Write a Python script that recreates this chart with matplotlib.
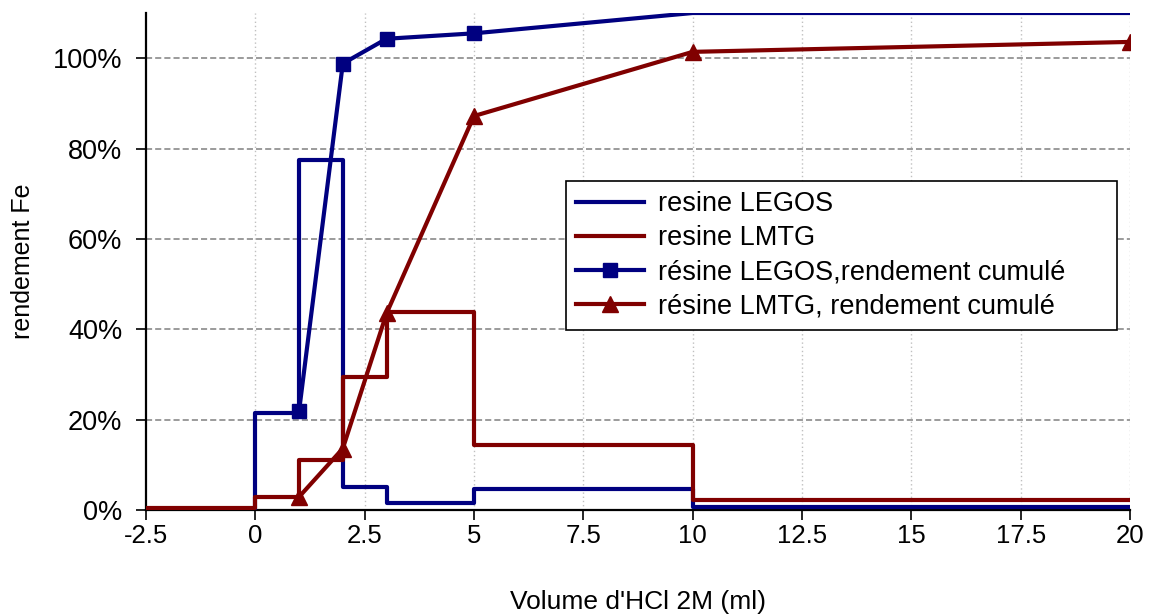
import matplotlib
matplotlib.use('Agg')
import matplotlib.pyplot as plt
from matplotlib.ticker import PercentFormatter, FormatStrFormatter

plt.rcParams['font.family'] = ['Liberation Sans', 'DejaVu Sans']

# step curves: value on each interval starting at the edge (last one repeated)
x_edges = [-2.5, 0, 1, 2, 3, 5, 10, 20]
legos_step = [0.0, 0.215, 0.775, 0.05, 0.015, 0.046, 0.006, 0.006]
lmtg_step = [0.004, 0.029, 0.11, 0.294, 0.439, 0.143, 0.022, 0.022]

# cumulative yields
x_cum = [1, 2, 3, 5, 10, 20]
legos_cum = [0.219, 0.988, 1.043, 1.055, 1.10, 1.10]
lmtg_cum = [0.029, 0.136, 0.435, 0.872, 1.014, 1.036]

x_ticks = [-2.5, 0, 2.5, 5, 7.5, 10, 12.5, 15, 17.5, 20]
y_ticks = [0, 0.2, 0.4, 0.6, 0.8, 1.0]

labels = ['resine LEGOS', 'resine LMTG',
          'résine LEGOS,rendement cumulé', 'résine LMTG, rendement cumulé']

blue = '#000080'
red = '#800000'

fig = plt.figure(figsize=(11.5, 6.14), dpi=100)
ax = fig.add_axes([146 / 1150, 1 - 510 / 614, 984 / 1150, 497 / 614])

ax.step(x_edges, legos_step, where='post', color=blue, lw=3, label=labels[0], zorder=3)
ax.step(x_edges, lmtg_step, where='post', color=red, lw=3, label=labels[1], zorder=3)
ax.plot(x_cum, legos_cum, color=blue, lw=3, marker='s', markersize=10,
        markevery=slice(0, 4), label=labels[2], zorder=4)
ax.plot(x_cum, lmtg_cum, color=red, lw=3, marker='^', markersize=11,
        label=labels[3], zorder=4)

ax.set_xlim(-2.5, 20)
ax.set_ylim(0, 1.10)
ax.set_xticks(x_ticks)
ax.xaxis.set_major_formatter(FormatStrFormatter('%g'))
ax.set_yticks(y_ticks)
ax.yaxis.set_major_formatter(PercentFormatter(1.0, decimals=0))

# grid
for yv in y_ticks[1:]:
    ax.axhline(yv, color='#808080', lw=1.1, ls=(0, (4, 2)), zorder=1)
for xv in x_ticks[1:]:
    ax.axvline(xv, color='#c0c0c0', lw=1.0, ls=(0, (1, 2)), zorder=1)

for s in ['top', 'right']:
    ax.spines[s].set_visible(False)
for s in ['left', 'bottom']:
    ax.spines[s].set_linewidth(1.6)
    ax.spines[s].set_color('black')
ax.tick_params(axis='both', direction='out', length=7, width=1.2)
ax.tick_params(axis='y', labelsize=19.5, pad=10)
ax.tick_params(axis='x', labelsize=18.5, pad=3)

ax.set_xlabel("Volume d'HCl 2M (ml)", fontsize=19, labelpad=30)
ax.set_ylabel('rendement Fe', fontsize=18, labelpad=13)

leg = ax.legend(loc='upper left', bbox_to_anchor=(0.427, 0.662, 0.56, 0.0), mode='expand',
                fontsize=19.5, frameon=True, fancybox=False, edgecolor='black',
                framealpha=1, handlelength=2.5, handletextpad=0.5,
                labelspacing=0.3, borderpad=0.38, borderaxespad=0)
leg.get_frame().set_linewidth(1.2)

fig.savefig('out.png', dpi=100, facecolor='white')
